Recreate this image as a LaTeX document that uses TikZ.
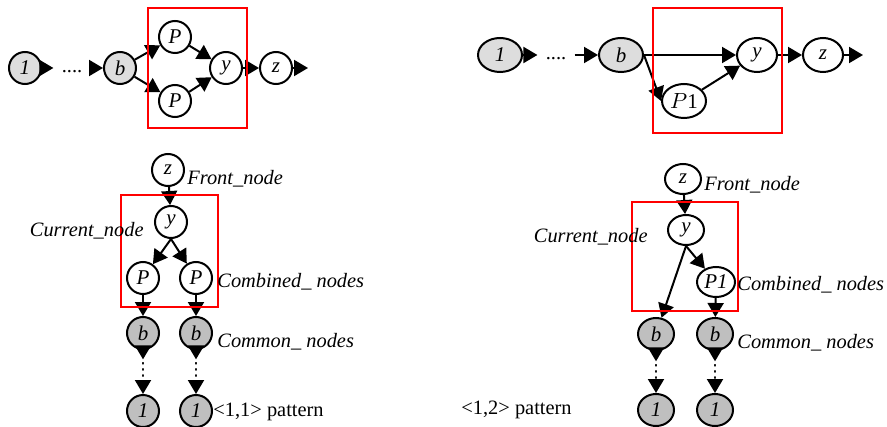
\documentclass[tikz,border=0pt]{standalone}
\usepackage{fontspec}
\setmainfont{Liberation Serif}
\newfontfamily\symfont{DejaVu Sans}
\usetikzlibrary{arrows.meta, shapes.geometric}

\newcommand{\stackdots}{{\symfont\fontsize{9}{9}\selectfont ⋮}}

\begin{document}
\begin{tikzpicture}[x = 0.5pt, y = -0.5pt, > = {Triangle[length = 7pt, width = 8pt]},
	font = \fontsize{10.2}{12}\selectfont,
	vertex/.style = {circle, draw, line width = 1pt, minimum size = 16pt, inner sep = 0pt, font = \fontsize{10.5}{12}\selectfont\itshape},
	oval/.style = {vertex, ellipse, minimum width = 22pt, minimum height = 17pt},
	narrow/.style = {vertex, ellipse, minimum width = 18pt, minimum height = 15pt},
	light/.style = {fill = gray!27},
	dark/.style = {fill = gray!50},
	link/.style = {line width = 1pt, ->},
	window/.style = {red, line width = 1.2pt},
	hgap/.style = {inner sep = 4pt, text height = 4pt, text depth = 0pt},
	vgap/.style = {inner sep = 1.5pt},
	caption/.style = {inner sep = 0pt, anchor = west, font = \fontsize{10.2}{12}\selectfont\itshape}]

	\useasboundingbox (0, 0) rectangle (887, 427);

	% Upper left graph

	\node [vertex, light] (tl1) at (25, 68) {1};
	\node [hgap] (tldots) at (72, 69) {....};
	\node [vertex, light] (tlb) at (120, 68) {b};
	\node [vertex] (tlpa) at (175, 37) {P};
	\node [vertex] (tlpb) at (175, 101) {P};
	\node [vertex] (tly) at (226, 68) {y};
	\node [vertex] (tlz) at (276, 68) {z};
	\coordinate (tlend) at (308, 68);

	\draw [link] (tl1) -- (tl1 -| tldots.west);
	\draw [link] (tldots.east |- tlb) -- (tlb);
	\draw [link] (tlb) -- (tlpa);
	\draw [link] (tlb) -- (tlpb);
	\draw [link] (tlpa) -- (tly);
	\draw [link] (tlpb) -- (tly);
	\draw [link] (tly) -- (tlz);
	\draw [link] (tlz) -- (tlend);

	\draw [window] (148, 8) rectangle (247, 128);

	% Upper right graph

	\node [oval, light] (tr1) at (500, 55) {1};
	\node [hgap] (trdots) at (556, 56) {....};
	\node [oval, light] (trb) at (621, 55) {b};
	\node [oval] (trp) at (684, 101) {$P$\upshape 1};
	\node [oval, minimum width = 20pt] (try) at (757, 55) {y};
	\node [oval, minimum width = 20pt] (trz) at (823, 55) {z};
	\coordinate (trend) at (863, 55);

	\draw [link] (tr1) -- (tr1 -| trdots.west);
	\draw [link] (trdots.east |- trb) -- (trb);
	\draw [link] (trb.east) -- (try.west);
	\draw [link] (trb.east) -- (trp.west);
	\draw [link] (trp) -- (try);
	\draw [link] (try) -- (trz);
	\draw [link] (trz) -- (trend);

	\draw [window] (653, 8) rectangle (782, 133);

	% Lower left tree

	\node [vertex] (blz) at (168, 170) {z};
	\node [vertex] (bly) at (171, 222) {y};
	\node [vertex] (blpa) at (143, 278) {P};
	\node [vertex] (blpb) at (196, 278) {P};
	\node [vertex, dark] (blba) at (143, 333) {b};
	\node [vertex, dark] (blbb) at (196, 333) {b};
	\node [vgap] (bldotsa) at (143, 370) {\stackdots};
	\node [vgap] (bldotsb) at (196, 370) {\stackdots};
	\node [vertex, dark] (bl1a) at (143, 411) {1};
	\node [vertex, dark] (bl1b) at (196, 411) {1};

	\draw [link] (blz) -- (bly);
	\draw [link] (bly.south) -- (blpa);
	\draw [link] (bly.south) -- (blpb);
	\draw [link] (blpa) -- (blba);
	\draw [link] (blpb) -- (blbb);
	\draw [link] (blba) -- (bldotsa);
	\draw [link] (blbb) -- (bldotsb);
	\draw [link] (bldotsa) -- (bl1a);
	\draw [link] (bldotsb) -- (bl1b);

	\draw [window] (121, 195) rectangle (218, 307);

	\node [caption] (blfront) at (187, 179) {Front\_node};
	\node [caption, anchor = east] (blcurrent) at (144, 231) {Current\_node};
	\node [caption] (blcombined) at (217, 282) {Combined\_ nodes};
	\node [caption] (blcommon) at (217, 342) {Common\_ nodes};
	\node [caption, font = \fontsize{10.2}{12}\selectfont] (blpattern) at (213, 412) {<1,1> pattern};

	% Lower right tree

	\node [narrow] (brz) at (683, 179) {z};
	\node [narrow] (bry) at (686, 230) {y};
	\node [narrow, minimum width = 19pt] (brp) at (716, 282) {P1};
	\node [narrow, dark, minimum height = 16pt] (brba) at (656, 334) {b};
	\node [narrow, dark, minimum height = 16pt] (brbb) at (715, 334) {b};
	\node [vgap] (brdotsa) at (656, 372) {\stackdots};
	\node [vgap] (brdotsb) at (715, 372) {\stackdots};
	\node [narrow, dark, minimum height = 16pt] (br1a) at (656, 410) {1};
	\node [narrow, dark, minimum height = 16pt] (br1b) at (715, 410) {1};

	\draw [link] (brz) -- (bry);
	\draw [link] (bry.south) -- (brba);
	\draw [link] (bry.south) -- (brp);
	\draw [link] (brp) -- (brbb);
	\draw [link] (brba) -- (brdotsa);
	\draw [link] (brbb) -- (brdotsb);
	\draw [link] (brdotsa) -- (br1a);
	\draw [link] (brdotsb) -- (br1b);

	\draw [window] (632, 202) rectangle (738, 311);

	\node [caption] (brfront) at (704, 185) {Front\_node};
	\node [caption, anchor = east] (brcurrent) at (648, 237) {Current\_node};
	\node [caption] (brcombined) at (737, 285) {Combined\_ nodes};
	\node [caption] (brcommon) at (737, 343) {Common\_ nodes};
	\node [caption, font = \fontsize{10.2}{12}\selectfont] (brpattern) at (461, 410) {<1,2> pattern};

\end{tikzpicture}
\end{document}
